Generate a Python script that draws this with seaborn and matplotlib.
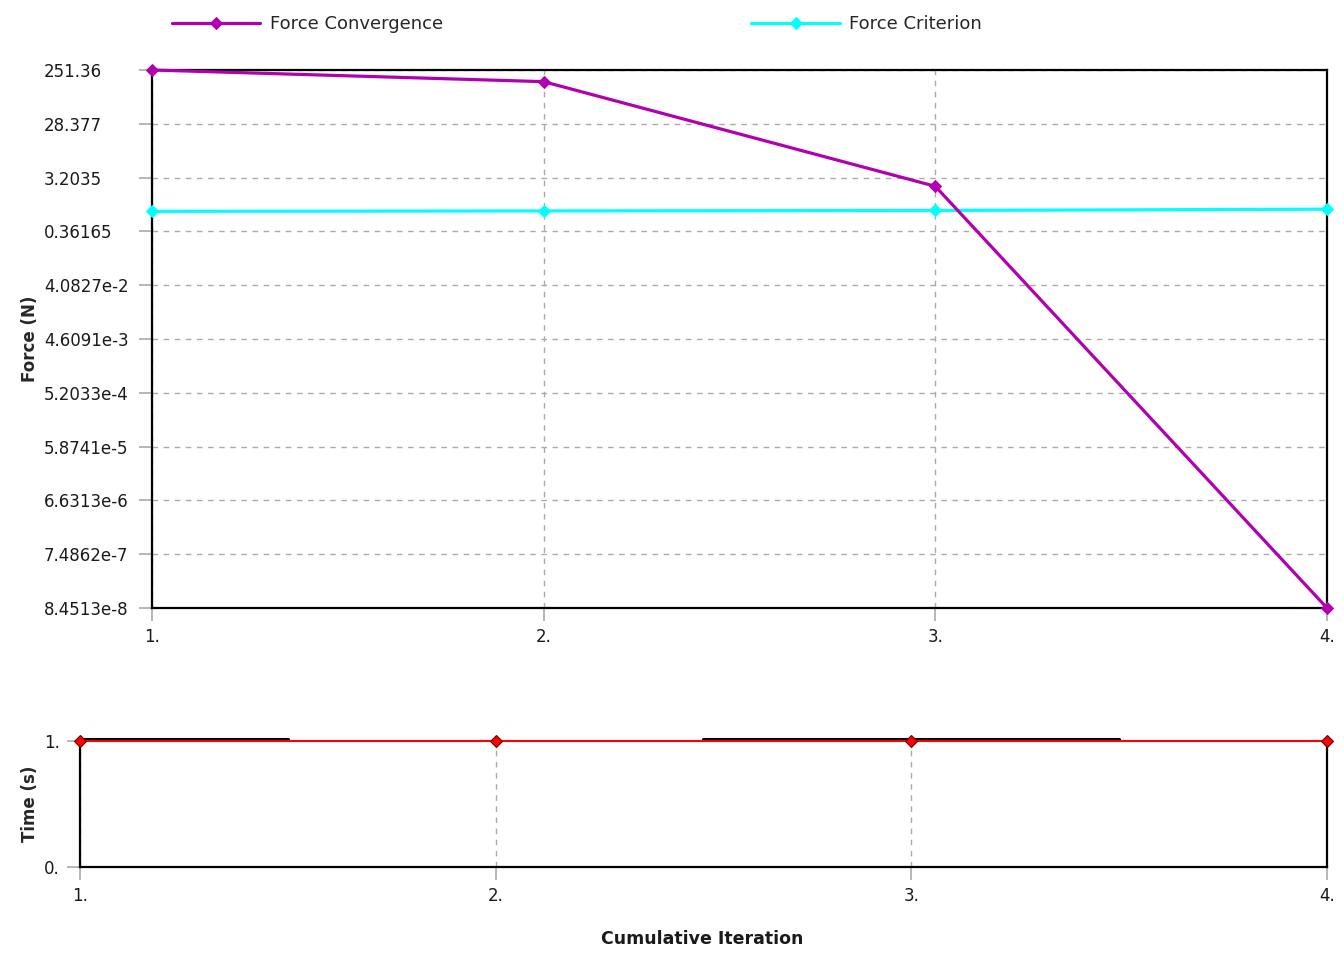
import numpy as np
import pandas as pd
import seaborn as sns
import matplotlib
matplotlib.use("Agg")
import matplotlib.pyplot as plt

# datos
iterations = [1, 2, 3, 4]
force_convergence = [251.36, 156.7, 2.25, 8.4513e-8]
force_criterion = [0.815, 0.83, 0.845, 0.89]
time_values = [1.0, 1.0, 1.0, 1.0]
step_starts = [1.0, 2.5]
step_ends = [1.5, 3.5]

force_tick_labels = ["251.36", "28.377", "3.2035", "0.36165", "4.0827e-2",
                     "4.6091e-3", "5.2033e-4", "5.8741e-5", "6.6313e-6",
                     "7.4862e-7", "8.4513e-8"]
iter_tick_labels = ["1.", "2.", "3.", "4."]
time_tick_labels = ["0.", "1."]

sns.set_style("white")
plt.rcParams["font.family"] = ["DejaVu Sans"]

W, H = 1344, 959
fig = plt.figure(figsize=(W / 100, H / 100), dpi=100)

def px_axes(left, top, right, bottom):
    return fig.add_axes([left / W, 1 - bottom / H, (right - left) / W, (bottom - top) / H])

ax1 = px_axes(152, 70, 1327, 608)
ax2 = px_axes(80, 741, 1327, 867)

df = pd.DataFrame({"it": iterations, "conv": force_convergence, "crit": force_criterion,
                   "time": time_values})

purple = "#B000B0"
cyan = "#00FFFF"

sns.lineplot(data=df, x="it", y="crit", ax=ax1, color=cyan, lw=2.3, marker="D",
             markersize=6, markeredgecolor=cyan, label="Force Criterion", clip_on=False, zorder=3)
sns.lineplot(data=df, x="it", y="conv", ax=ax1, color=purple, lw=2.3, marker="D",
             markersize=6, markeredgecolor=purple, label="Force Convergence", clip_on=False, zorder=4)

ax1.set_yscale("log")
ticks = [float(t) for t in force_tick_labels]
ax1.set_ylim(ticks[-1], ticks[0])
ax1.set_yticks(ticks)
ax1.set_yticklabels(force_tick_labels)
ax1.minorticks_off()
ax1.set_xlim(1, 4)
ax1.set_xticks(iterations)
ax1.set_xticklabels(iter_tick_labels)
ax1.set_xlabel("")
ax1.set_ylabel("Force (N)", fontsize=12, fontweight="bold")
ax1.yaxis.set_label_coords((39 - 152) / 1175, 0.5)

# rejilla discontinua
ax1.grid(True, axis="both", color="#AAAAAA", linestyle=(0, (4, 4)), lw=1)

# lineas del paso de tiempo
for s, e in zip(step_starts, step_ends):
    ax2.plot([s, e], [1.012, 1.012], color="black", lw=2.2, zorder=2, clip_on=False)
sns.lineplot(data=df, x="it", y="time", ax=ax2, color="#FF0000", lw=1.5, marker="D",
             markersize=6, markerfacecolor="#FF0000", markeredgecolor="#700000",
             markeredgewidth=0.8, clip_on=False, zorder=3)
ax2.set_xlim(1, 4)
ax2.set_ylim(0, 1)
ax2.set_xticks(iterations)
ax2.set_xticklabels(iter_tick_labels)
ax2.set_yticks([0, 1])
ax2.set_yticklabels(time_tick_labels)
ax2.set_xlabel("")
ax2.set_ylabel("Time (s)", fontsize=12, fontweight="bold")
ax2.yaxis.set_label_coords((39 - 80) / 1247, 0.5)
ax2.grid(True, axis="x", color="#AAAAAA", linestyle=(0, (4, 4)), lw=1)
ax2.spines["top"].set_visible(False)

for ax in (ax1, ax2):
    for sp in ax.spines.values():
        sp.set_color("black")
        sp.set_linewidth(1.6)
    ax.tick_params(axis="both", which="major", direction="out", length=9.4, width=1.2,
                   color="#AAAAAA", labelsize=12, labelcolor="#1a1a1a",
                   bottom=True, left=True)
    ax.tick_params(axis="x", pad=5)

ax1.tick_params(axis="y", pad=68.4)
ax2.tick_params(axis="y", pad=16.5)
for ax in (ax1, ax2):
    for lab in ax.get_yticklabels():
        lab.set_horizontalalignment("left")

if ax1.get_legend() is not None:
    ax1.get_legend().remove()
handles, labels = ax1.get_legend_handles_labels()
order = [labels.index("Force Convergence"), labels.index("Force Criterion")]
fig.legend([handles[i] for i in order], [labels[i] for i in order],
           loc="center left", bbox_to_anchor=(172 / W, 1 - 24 / H), ncol=2,
           frameon=False, fontsize=13, handlelength=4.9, handletextpad=0.5,
           columnspacing=17.1, borderpad=0, borderaxespad=0)

fig.text(702 / W, 1 - 939 / H, "Cumulative Iteration", ha="center", va="center",
         fontsize=12.5, fontweight="bold", color="#1a1a1a")

fig.savefig("out.png", dpi=100, facecolor="white")
